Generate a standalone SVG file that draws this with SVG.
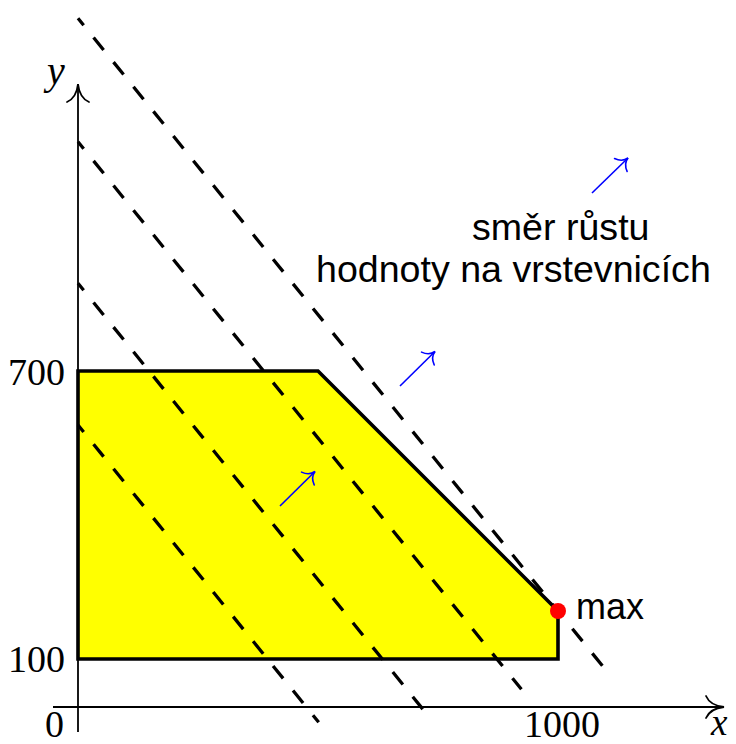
<svg xmlns="http://www.w3.org/2000/svg" width="736" height="744" viewBox="0 0 736 744">
<style>
.axis{stroke:#000;stroke-width:1.8;fill:none}
.dash{stroke:#000;stroke-width:3.3;fill:none;stroke-dasharray:16 15.7}
.blue{stroke:#0000ff;stroke-width:1.6;fill:none}
.num{font-family:"Liberation Serif",serif;font-size:38px;fill:#000}
.var{font-family:"Liberation Serif",serif;font-style:italic;font-size:40px;fill:#000}
.lbl{font-family:"Liberation Sans",sans-serif;font-size:37.6px;fill:#000}
.mx{font-family:"Liberation Sans",sans-serif;font-size:36px;fill:#000}
</style>
<defs>
<marker id="axhead" markerUnits="userSpaceOnUse" viewBox="-20 -14 24 28" refX="0" refY="0" markerWidth="24" markerHeight="28" orient="auto">
<path d="M -18 -11 C -15 -4 -7 -0.8 0 0 C -7 0.8 -15 4 -18 11" fill="none" stroke="#000" stroke-width="1.8" stroke-linecap="round"/>
</marker>
<marker id="bhead" markerUnits="userSpaceOnUse" viewBox="-14 -12 18 24" refX="0" refY="0" markerWidth="18" markerHeight="24" orient="auto">
<path d="M -10 -9 C -8 -3.5 -4 -0.6 0 0 C -4 0.6 -8 3.5 -10 9" fill="none" stroke="#0000ff" stroke-width="1.6" stroke-linecap="round"/>
</marker>
</defs>
<g id="axes">
<line class="axis" x1="78" y1="732" x2="78" y2="84" marker-end="url(#axhead)"/>
<line class="axis" x1="53" y1="707" x2="724" y2="707" marker-end="url(#axhead)"/>
</g>
<g id="region">
<polygon points="78,659 78,371 318,371 558,611 558,659" fill="#ffff00" stroke="#000" stroke-width="3.6" stroke-linejoin="miter"/>
</g>
<g id="connectors">
<line class="dash" x1="78" y1="18.3" x2="607" y2="671.5" stroke-dashoffset="7"/>
<line class="dash" x1="78" y1="141.7" x2="521.4" y2="689.3" stroke-dashoffset="7"/>
<line class="dash" x1="78" y1="283.3" x2="424.9" y2="711.7" stroke-dashoffset="7"/>
<line class="dash" x1="78" y1="425" x2="318.7" y2="722.3" stroke-dashoffset="7"/>
<line class="blue" x1="280" y1="506" x2="315" y2="471.5" marker-end="url(#bhead)"/>
<line class="blue" x1="400" y1="386" x2="435" y2="351.5" marker-end="url(#bhead)"/>
<line class="blue" x1="592" y1="193" x2="628" y2="158" marker-end="url(#bhead)"/>
</g>
<g id="max">
<circle cx="558" cy="611" r="8" fill="#ff0000"/>
<text class="mx" x="576" y="619">max</text>
</g>
<g id="labels">
<text class="var" x="47" y="84">y</text>
<text class="var" x="711" y="735" style="font-size:37px">x</text>
<text class="num" x="64" y="737" text-anchor="end">0</text>
<text class="num" x="562" y="737" text-anchor="middle">1000</text>
<text class="num" x="65" y="385" text-anchor="end">700</text>
<text class="num" x="65" y="672" text-anchor="end">100</text>
</g>
<g id="direction-label">
<text class="lbl" x="472" y="240">směr růstu</text>
<text class="lbl" x="316" y="282">hodnoty na vrstevnicích</text>
</g>
</svg>
